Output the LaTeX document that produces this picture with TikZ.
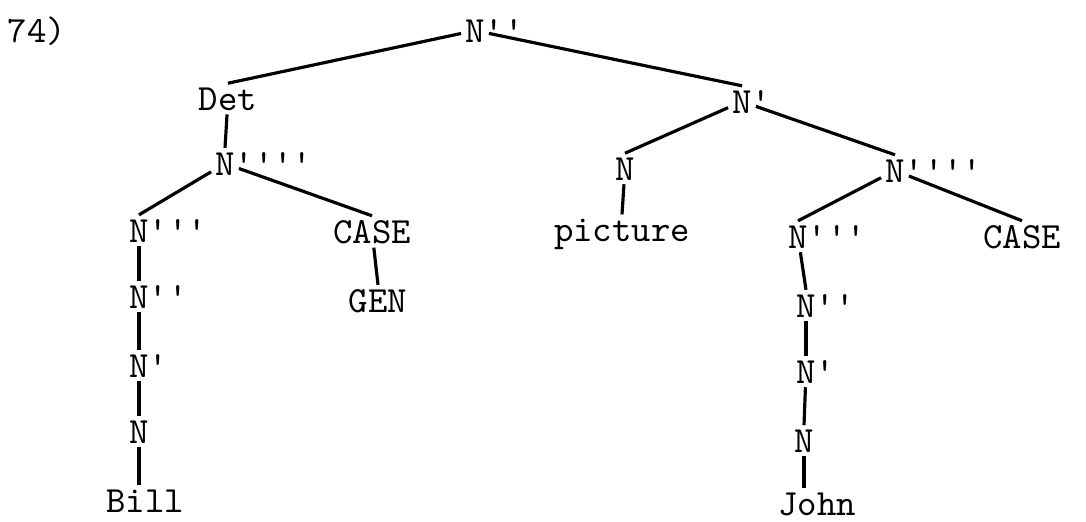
\documentclass[tikz,border=0pt]{standalone}
\usepackage{fontspec}
\begin{document}
\begin{tikzpicture}[x=0.01cm,y=-0.01cm,
  lab/.style={anchor=base,inner sep=1pt,font={\ttfamily\fontsize{10.5}{12}\selectfont}},
  branch/.style={line width=0.9pt}]
\useasboundingbox (0,0) rectangle (1086,521);

\node[lab] (num) at (37,42) {74)};

\node[lab] (top) at (475,42) {N\rlap{''}};

\node[lab] (det) at (228,110) {Det};
\node[lab] (lnfour) at (225,175) {N\rlap{''''}};
\node[lab] (lnthree) at (139,242) {N\rlap{'''}};
\node[lab] (lcase) at (372,243) {CASE};
\node[lab] (gen) at (378,312) {GEN};
\node[lab] (lntwo) at (139,308) {N\rlap{''}};
\node[lab] (lnone) at (139,377) {N\rlap{'}};
\node[lab] (lnzero) at (139,443) {N};
\node[lab] (bill) at (145,512) {Bill};

\node[lab] (nbar) at (742,113) {N\rlap{'}};
\node[lab] (nhead) at (625,180) {N};
\node[lab] (pict) at (622,241) {picture};
\node[lab] (rnfour) at (895,182) {N\rlap{''''}};
\node[lab] (rnthree) at (798,248) {N\rlap{'''}};
\node[lab] (rcase) at (1022,248) {CASE};
\node[lab] (rntwo) at (806,317) {N\rlap{''}};
\node[lab] (rnone) at (806,383) {N\rlap{'}};
\node[lab] (rnzero) at (804,452) {N};
\node[lab] (john) at (817,515) {John};

\draw[branch] (top) -- (det.north);
\draw[branch] (top) -- (nbar.north);
\draw[branch] (det) -- (lnfour.north);
\draw[branch] (lnfour) -- (lnthree.north);
\draw[branch] (lnfour) -- (lcase.north);
\draw[branch] (lcase) -- (gen.north);
\draw[branch] (lnthree) -- (lntwo.north);
\draw[branch] (lntwo) -- (lnone.north);
\draw[branch] (lnone) -- (lnzero.north);
\draw[branch] (lnzero.south) -- (lnzero.south |- bill.north);

\draw[branch] (nbar) -- (nhead.north);
\draw[branch] (nbar) -- (rnfour.north);
\draw[branch] (nhead) -- (pict.north);
\draw[branch] (rnfour) -- (rnthree.north);
\draw[branch] (rnfour) -- (rcase.north);
\draw[branch] (rnthree) -- (rntwo.north);
\draw[branch] (rntwo) -- (rnone.north);
\draw[branch] (rnone) -- (rnzero.north);
\draw[branch] (rnzero.south) -- (rnzero.south |- john.north);

\end{tikzpicture}
\end{document}
